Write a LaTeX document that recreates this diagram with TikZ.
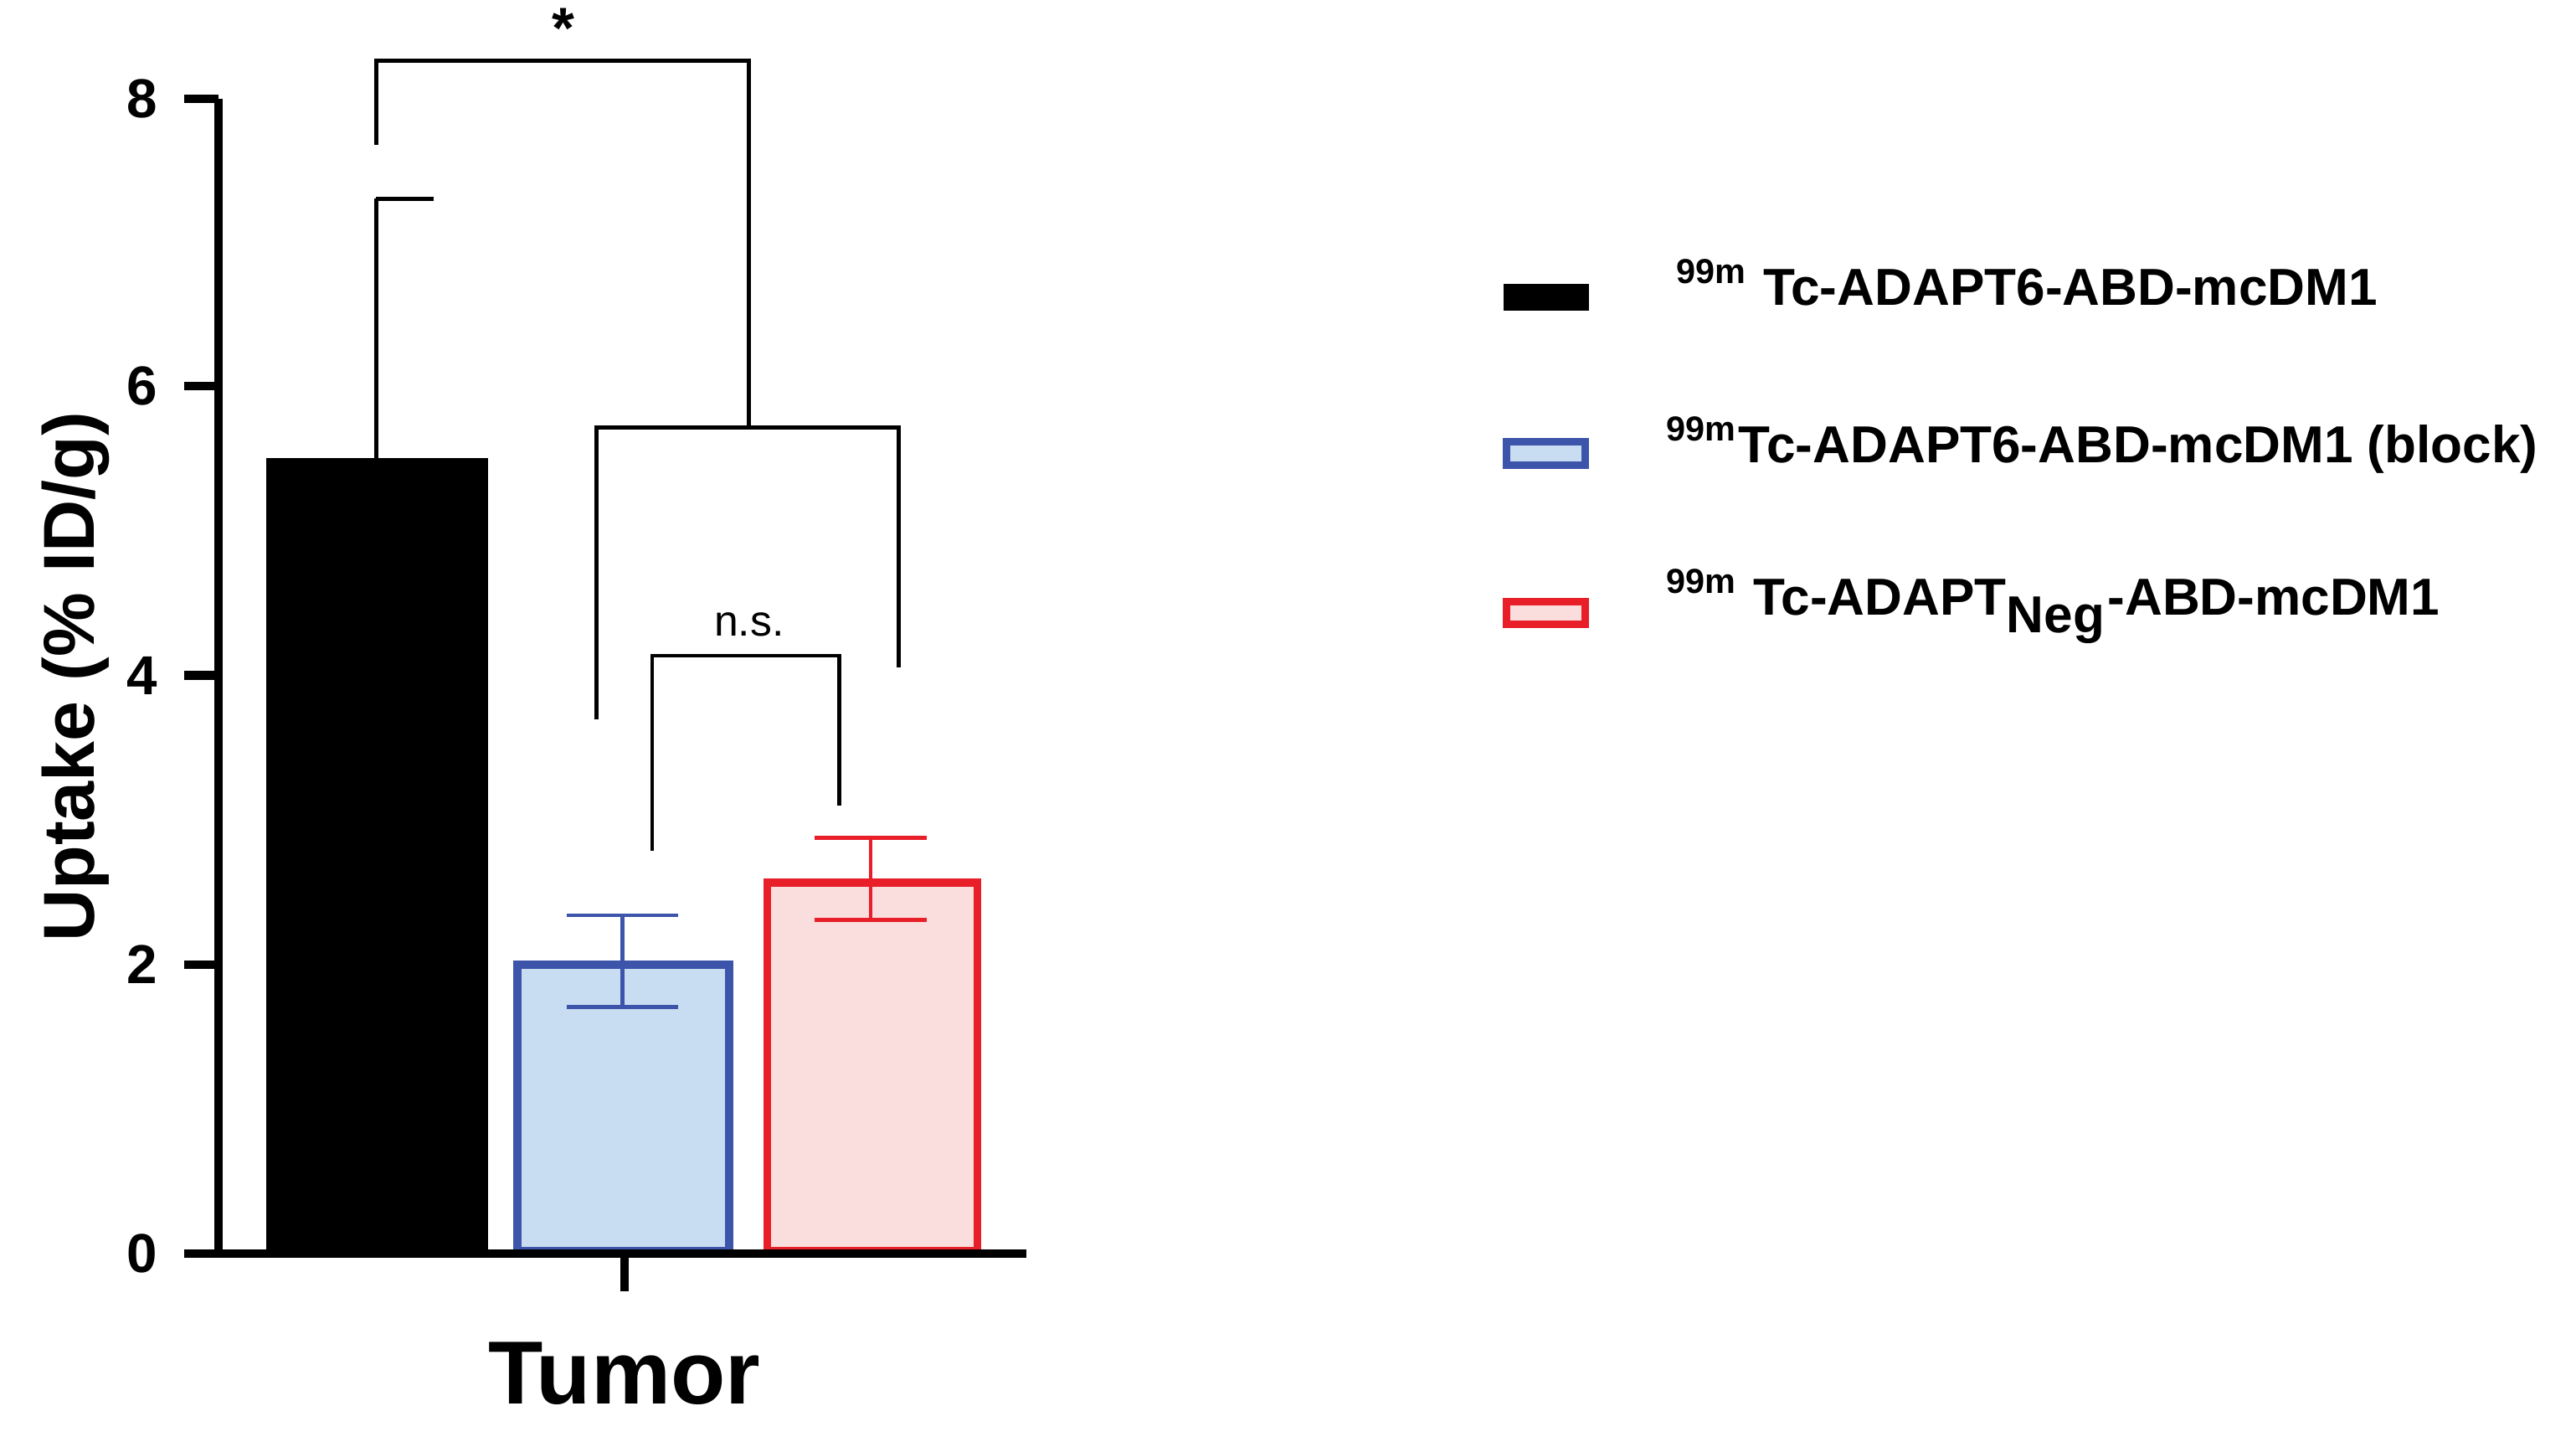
\documentclass[tikz,border=0pt]{standalone}
\usepackage{fontspec}
\setmainfont{Liberation Sans}
\begin{document}
\begin{tikzpicture}[x=0.01cm,y=-0.01cm,
  ax/.style={line width=1.5pt},
  br/.style={line width=0.7pt},
  eb/.style={line width=0.7pt},
  tick/.style={font=\bfseries\fontsize{9.5}{10}\selectfont,anchor=east},
  leg/.style={font=\bfseries\fontsize{9}{11}\selectfont,anchor=west}]
\definecolor{bedge}{RGB}{60,85,170}
\definecolor{bfill}{RGB}{200,220,242}
\definecolor{redge}{RGB}{232,30,40}
\definecolor{rfill}{RGB}{250,222,222}
\useasboundingbox (0,0) rectangle (1568,874);
% bars
\fill[black] (162,763) rectangle (297,279);
\draw[line width=1.4pt,draw=bedge,fill=bfill] (315,761) rectangle (444,587);
\draw[line width=1.4pt,draw=redge,fill=rfill] (467,761) rectangle (595,537);
% error bars
\draw[eb] (229,279) -- (229,121) (229,121) -- (264,121);
\draw[eb,bedge] (379,613) -- (379,557) (345,557) -- (413,557) (345,613) -- (413,613);
\draw[eb,redge] (530,560) -- (530,510) (496,510) -- (564,510) (496,560) -- (564,560);
% axes
\draw[ax] (133,60) -- (133,763) -- (625,763);
\draw[ax] (380,763) -- (380,786);
\foreach \v/\y in {0/763,2/587,4/411,6/235,8/60}{
  \draw[ax] (112,\y) -- (133,\y);
  \node[tick] (t\v) at (108,\y) {\v};
}
\node[rotate=90,font=\bfseries\fontsize{12.5}{14}\selectfont] (yl) at (46,412) {Uptake (\% ID/g)};
\node[font=\bfseries\fontsize{15.5}{18}\selectfont] (xl) at (380,836) {Tumor};
% brackets
\draw[br] (229,88) -- (229,37) -- (456,37) -- (456,260);
\draw[br] (363,438) -- (363,260) -- (547,260) -- (547,406);
\draw[br] (397,518) -- (397,399) -- (511,399) -- (511,490);
\node[font=\bfseries\fontsize{10}{12}\selectfont] (star) at (343,17) {*};
\node[font=\fontsize{7.5}{9}\selectfont] (ns) at (456,380) {n.s.};
% legend
\fill[black] (915,173) rectangle (967,189);
\draw[line width=1.3pt,draw=bedge,fill=bfill] (917,269) rectangle (965,283);
\draw[line width=1.3pt,draw=redge,fill=rfill] (917,366) rectangle (965,380);
\node[leg] (l1) at (1008,172) {\textsuperscript{99m} Tc-ADAPT6-ABD-mcDM1};
\node[leg] (l2) at (1002,271) {\textsuperscript{99m}Tc-ADAPT6-ABD-mcDM1 (block)};
\node[leg] (l3) at (1002,369) {\textsuperscript{99m} Tc-ADAPT$_{\mathrm{\textbf{Neg}}}$-ABD-mcDM1};
\end{tikzpicture}
\end{document}
